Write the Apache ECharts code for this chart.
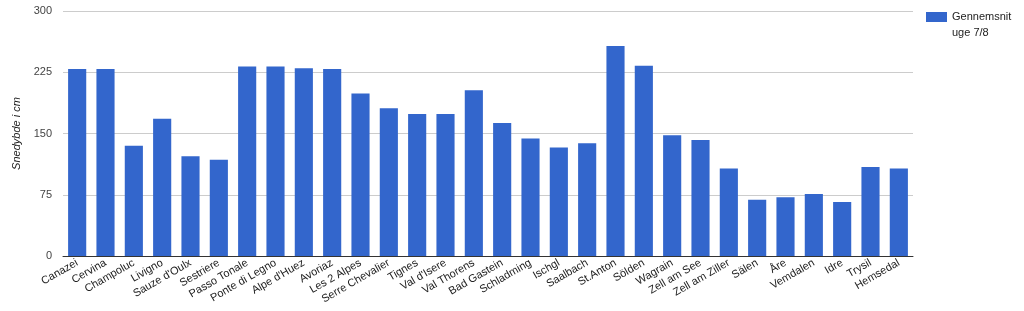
<!DOCTYPE html>
<html><head><meta charset="utf-8">
<script src="https://cdn.jsdelivr.net/npm/echarts@6/dist/echarts.min.js"></script>
<style>html,body{margin:0;padding:0;background:#fff}#c{width:1024px;height:311px}</style>
</head><body><div id="c"></div>
<script>
const categories = ["Canazei","Cervina","Champoluc","Livigno","Sauze d'Oulx","Sestriere","Passo Tonale","Ponte di Legno","Alpe d'Huez","Avoriaz","Les 2 Alpes","Serre Chevalier","Tignes","Val d'Isere","Val Thorens","Bad Gastein","Schladming","Ischgl","Saalbach","St.Anton","Sölden","Wagrain","Zell am See","Zell am Ziller","Sälen","Åre","Vemdalen","Idre","Trysil","Hemsedal"];
const snowDepth = [229,229,135,168,122,118,232,232,230,229,199,181,174,174,203,163,144,133,138,257,233,148,142,107,69,72,76,66,109,107];
const yTicks = [0,75,150,225,300];
const seriesName = "Gennemsnit\nuge 7/8";
const yAxisName = "Snedybde i cm";

const chart = echarts.init(document.getElementById('c'), null, {renderer:'canvas'});
chart.setOption({
  animation:false,
  textStyle:{fontFamily:'Liberation Sans, Arial, sans-serif'},
  grid:{left:63, right:111, top:11, bottom:55, containLabel:false},
  legend:{
    left:926, top:9, orient:'vertical', padding:0,
    icon:'path://M0,0H21V10H0Z M0,25.99H0.01V26H0Z', itemWidth:21, itemHeight:26, itemGap:8,
    textStyle:{fontSize:11, color:'#222', lineHeight:16},
    data:[seriesName]
  },
  xAxis:{
    type:'category', data:categories,
    axisTick:{show:false},
    axisLine:{lineStyle:{color:'#333'}},
    axisLabel:{rotate:30, fontSize:11, color:'#222', interval:0, margin:6}
  },
  yAxis:{
    type:'value', min:yTicks[0], max:yTicks[yTicks.length-1], interval:75,
    name:yAxisName, nameLocation:'middle', nameGap:40,
    nameTextStyle:{fontStyle:'italic', fontSize:11, color:'#222'},
    axisLine:{show:false}, axisTick:{show:false},
    axisLabel:{fontSize:11, color:'#444', margin:11},
    splitLine:{lineStyle:{color:'#ccc'}}
  },
  series:[{
    name:seriesName, type:'bar', data:snowDepth,
    barWidth:'64%', itemStyle:{color:'#3366cc'}
  }]
});
</script></body></html>
